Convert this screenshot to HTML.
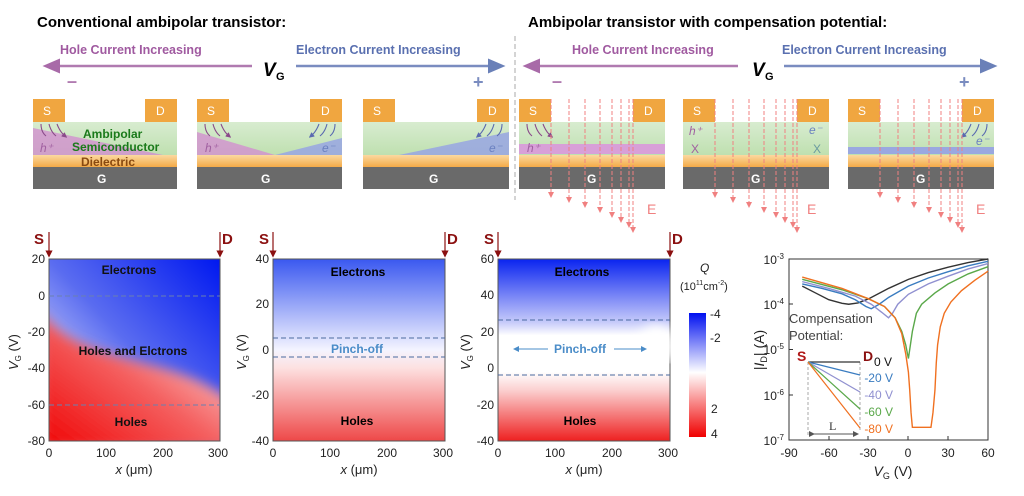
<!DOCTYPE html>
<html><head><meta charset="utf-8"><style>
body{margin:0;background:#fff;}
svg{display:block;font-family:"Liberation Sans",sans-serif;}
</style></head><body>
<svg width="1024" height="496" viewBox="0 0 1024 496" xmlns="http://www.w3.org/2000/svg">
<defs>
<marker id="ap" markerWidth="8" markerHeight="8" refX="4" refY="4" orient="auto"><path d="M0,1 L7,4 L0,7 z" fill="#a86aa8"/></marker>
<marker id="ab" markerWidth="8" markerHeight="8" refX="4" refY="4" orient="auto"><path d="M0,1 L7,4 L0,7 z" fill="#6a80b8"/></marker>
<marker id="ar" markerWidth="6" markerHeight="6" refX="3" refY="3" orient="auto"><path d="M0,0 L6,3 L0,6 z" fill="#f08080"/></marker>
<marker id="ad" markerWidth="6" markerHeight="6" refX="3" refY="3" orient="auto"><path d="M0,0 L6,3 L0,6 z" fill="#8b1010"/></marker>
<marker id="ak" markerWidth="6" markerHeight="6" refX="3" refY="3" orient="auto"><path d="M0,0 L6,3 L0,6 z" fill="#555"/></marker>
<marker id="abl" markerWidth="6" markerHeight="6" refX="3" refY="3" orient="auto"><path d="M0,0 L6,3 L0,6 z" fill="#4a8cc8"/></marker>
<marker id="sp" markerWidth="5" markerHeight="5" refX="2.5" refY="2.5" orient="auto"><path d="M0,0 L5,2.5 L0,5 z" fill="#8a4a8a"/></marker>
<marker id="sb" markerWidth="5" markerHeight="5" refX="2.5" refY="2.5" orient="auto"><path d="M0,0 L5,2.5 L0,5 z" fill="#5a6ab0"/></marker>
<linearGradient id="gr" x1="0" y1="0" x2="0" y2="1"><stop offset="0" stop-color="#d8ecd0"/><stop offset="1" stop-color="#bfe0b0"/></linearGradient>
<linearGradient id="or" x1="0" y1="0" x2="0" y2="1"><stop offset="0" stop-color="#fbd9a0"/><stop offset="1" stop-color="#f4aa48"/></linearGradient>
<linearGradient id="p1b" x1="0" y1="1" x2="1" y2="0"><stop offset="0" stop-color="#fff"/><stop offset="0.5" stop-color="#5a6cf0"/><stop offset="1" stop-color="#0018f0"/></linearGradient>
<linearGradient id="p1r" x1="1" y1="0" x2="0" y2="1"><stop offset="0" stop-color="#fff"/><stop offset="0.5" stop-color="#f46060"/><stop offset="1" stop-color="#f00000"/></linearGradient>
<linearGradient id="p2" x1="0" y1="0" x2="0" y2="1"><stop offset="0" stop-color="#3a58f0"/><stop offset="0.5" stop-color="#f4f4ff"/><stop offset="0.6" stop-color="#fde0e0"/><stop offset="1" stop-color="#ee4848"/></linearGradient>
<linearGradient id="p3" x1="0" y1="0" x2="0" y2="1"><stop offset="0" stop-color="#0a24f0"/><stop offset="0.35" stop-color="#c8ccfa"/><stop offset="0.42" stop-color="#fff"/><stop offset="0.62" stop-color="#fff"/><stop offset="0.72" stop-color="#fbd0d0"/><stop offset="1" stop-color="#ee2020"/></linearGradient>
<linearGradient id="cb" x1="0" y1="0" x2="0" y2="1"><stop offset="0" stop-color="#0010f0"/><stop offset="0.48" stop-color="#fff"/><stop offset="1" stop-color="#f00000"/></linearGradient>
<filter id="bl"><feGaussianBlur stdDeviation="6"/></filter>
<clipPath id="c1"><rect x="49" y="259" width="171" height="182"/></clipPath>
</defs>

<text x="37" y="27" font-size="15" font-weight="bold">Conventional ambipolar transistor:</text>
<text x="528" y="27" font-size="15" font-weight="bold">Ambipolar transistor with compensation potential:</text>
<line x1="515" y1="36" x2="515" y2="200" stroke="#aaa" stroke-dasharray="5,3"/>

<g font-size="12.5" font-weight="bold">
<text x="60" y="54" fill="#a05aa0">Hole Current Increasing</text>
<text x="296" y="54" fill="#5a70b0">Electron Current Increasing</text>
<text x="572" y="54" fill="#a05aa0">Hole Current Increasing</text>
<text x="782" y="54" fill="#5a70b0">Electron Current Increasing</text>
</g>
<line x1="252" y1="66" x2="50" y2="66" stroke="#b07ab0" stroke-width="2.5" marker-end="url(#ap)"/>
<line x1="296" y1="66" x2="498" y2="66" stroke="#7a8cc0" stroke-width="2.5" marker-end="url(#ab)"/>
<line x1="738" y1="66" x2="530" y2="66" stroke="#b07ab0" stroke-width="2.5" marker-end="url(#ap)"/>
<line x1="784" y1="66" x2="990" y2="66" stroke="#7a8cc0" stroke-width="2.5" marker-end="url(#ab)"/>
<text x="263" y="76" font-size="19" font-weight="bold" font-style="italic">V</text><text x="276" y="80" font-size="11" font-weight="bold">G</text>
<text x="752" y="76" font-size="19" font-weight="bold" font-style="italic">V</text><text x="765" y="80" font-size="11" font-weight="bold">G</text>
<text x="67" y="87" font-size="18" fill="#b07ab0" font-weight="bold">–</text>
<text x="473" y="88" font-size="18" fill="#7a8cc0" font-weight="bold">+</text>
<text x="552" y="87" font-size="18" fill="#b07ab0" font-weight="bold">–</text>
<text x="959" y="88" font-size="18" fill="#7a8cc0" font-weight="bold">+</text>

<g font-size="12" fill="#fff">
<g transform="translate(33,0)">
<rect x="0" y="122" width="144" height="33" fill="url(#gr)"/>
<path d="M0,128 L0,155 L130,155 Z" fill="#d290d0" opacity="0.8"/>
<rect x="0" y="155" width="144" height="12" fill="url(#or)"/>
<rect x="0" y="167" width="144" height="22" fill="#6a6a6a"/>
<rect x="0" y="99" width="32" height="23" fill="#f0a640"/><rect x="112" y="99" width="32" height="23" fill="#f0a640"/>
<text x="10" y="115">S</text><text x="123" y="115">D</text><text x="64" y="183" font-weight="bold">G</text>
<path d="M8,124 q0,8 5,12 M16,124 q2,8 7,12 M24,124 q3,8 8,12" stroke="#8a4a8a" fill="none" stroke-width="1.1" marker-end="url(#sp)"/>
</g>
<text x="83" y="138" font-size="12" font-weight="bold" fill="#1a7a1a">Ambipolar</text>
<text x="72" y="151" font-size="12" font-weight="bold" fill="#1a7a1a">Semiconductor</text>
<text x="81" y="166" font-size="12" font-weight="bold" fill="#8a4a10">Dielectric</text>
<text x="40" y="152" font-size="12" font-style="italic" fill="#a060a0">h⁺</text>
<g transform="translate(197,0)">
<rect x="0" y="122" width="145" height="33" fill="url(#gr)"/>
<path d="M0,132 L0,155 L78,155 Z" fill="#d290d0" opacity="0.8"/>
<path d="M145,138 L145,155 L78,155 Z" fill="#9aa8e0" opacity="0.9"/>
<rect x="0" y="155" width="145" height="12" fill="url(#or)"/>
<rect x="0" y="167" width="145" height="22" fill="#6a6a6a"/>
<rect x="0" y="99" width="32" height="23" fill="#f0a640"/><rect x="113" y="99" width="32" height="23" fill="#f0a640"/>
<text x="10" y="115">S</text><text x="124" y="115">D</text><text x="64" y="183" font-weight="bold">G</text>
<text x="8" y="152" font-style="italic" fill="#a060a0">h⁺</text><text x="125" y="152" font-style="italic" fill="#6a80c0">e⁻</text>
<path d="M8,124 q0,8 5,12 M16,124 q2,8 7,12 M24,124 q3,8 8,12" stroke="#8a4a8a" fill="none" stroke-width="1.1" marker-end="url(#sp)"/>
<path d="M138,124 q0,8 -5,12 M130,124 q-2,8 -7,12 M122,124 q-3,8 -8,12" stroke="#5a6ab0" fill="none" stroke-width="1.1" marker-end="url(#sb)"/>
</g>
<g transform="translate(363,0)">
<rect x="0" y="122" width="146" height="33" fill="url(#gr)"/>
<path d="M146,132 L146,155 L36,155 Z" fill="#9aa8e0" opacity="0.9"/>
<rect x="0" y="155" width="146" height="12" fill="url(#or)"/>
<rect x="0" y="167" width="146" height="22" fill="#6a6a6a"/>
<rect x="0" y="99" width="32" height="23" fill="#f0a640"/><rect x="114" y="99" width="32" height="23" fill="#f0a640"/>
<text x="10" y="115">S</text><text x="125" y="115">D</text><text x="66" y="183" font-weight="bold">G</text>
<text x="126" y="152" font-style="italic" fill="#6a80c0">e⁻</text>
<path d="M139,124 q0,8 -5,12 M131,124 q-2,8 -7,12 M123,124 q-3,8 -8,12" stroke="#5a6ab0" fill="none" stroke-width="1.1" marker-end="url(#sb)"/>
</g>
<g transform="translate(519,0)">
<rect x="0" y="122" width="146" height="33" fill="url(#gr)"/>
<rect x="0" y="144" width="146" height="10" fill="#d8a0d8"/>
<rect x="0" y="155" width="146" height="12" fill="url(#or)"/>
<rect x="0" y="167" width="146" height="22" fill="#6a6a6a"/>
<rect x="0" y="99" width="32" height="23" fill="#f0a640"/><rect x="114" y="99" width="32" height="23" fill="#f0a640"/>
<text x="10" y="115">S</text><text x="125" y="115">D</text><text x="68" y="183" font-weight="bold">G</text>
<text x="8" y="152" font-style="italic" fill="#a060a0">h⁺</text>
<path d="M8,124 q0,8 5,12 M16,124 q2,8 7,12 M24,124 q3,8 8,12" stroke="#8a4a8a" fill="none" stroke-width="1.1" marker-end="url(#sp)"/>
<g stroke="#f08080" stroke-dasharray="4,2" marker-end="url(#ar)"><line x1="32" y1="99" x2="32" y2="195"/><line x1="50" y1="99" x2="50" y2="200"/><line x1="66" y1="99" x2="66" y2="205"/><line x1="81" y1="99" x2="81" y2="210"/><line x1="93" y1="99" x2="93" y2="215"/><line x1="102" y1="99" x2="102" y2="220"/><line x1="110" y1="99" x2="110" y2="225"/><line x1="114" y1="99" x2="114" y2="230"/></g>
<text x="128" y="214" font-size="14" fill="#f08080">E</text>
</g>
<g transform="translate(683,0)">
<rect x="0" y="122" width="146" height="33" fill="url(#gr)"/>
<rect x="0" y="155" width="146" height="12" fill="url(#or)"/>
<rect x="0" y="167" width="146" height="22" fill="#6a6a6a"/>
<rect x="0" y="99" width="32" height="23" fill="#f0a640"/><rect x="114" y="99" width="32" height="23" fill="#f0a640"/>
<text x="10" y="115">S</text><text x="125" y="115">D</text><text x="68" y="183" font-weight="bold">G</text>
<text x="6" y="135" font-style="italic" fill="#a060a0">h⁺</text><text x="126" y="134" font-style="italic" fill="#6a80c0">e⁻</text>
<text x="8" y="153" fill="#a060a0">X</text><text x="130" y="153" fill="#6a9aa0">X</text>
<g stroke="#f08080" stroke-dasharray="4,2" marker-end="url(#ar)"><line x1="32" y1="99" x2="32" y2="195"/><line x1="50" y1="99" x2="50" y2="200"/><line x1="66" y1="99" x2="66" y2="205"/><line x1="81" y1="99" x2="81" y2="210"/><line x1="93" y1="99" x2="93" y2="215"/><line x1="102" y1="99" x2="102" y2="220"/><line x1="110" y1="99" x2="110" y2="225"/><line x1="114" y1="99" x2="114" y2="230"/></g>
<text x="124" y="214" font-size="14" fill="#f08080">E</text>
</g>
<g transform="translate(848,0)">
<rect x="0" y="122" width="146" height="33" fill="url(#gr)"/>
<rect x="0" y="147" width="146" height="7" fill="#9aa8e0"/>
<rect x="0" y="155" width="146" height="12" fill="url(#or)"/>
<rect x="0" y="167" width="146" height="22" fill="#6a6a6a"/>
<rect x="0" y="99" width="32" height="23" fill="#f0a640"/><rect x="114" y="99" width="32" height="23" fill="#f0a640"/>
<text x="10" y="115">S</text><text x="125" y="115">D</text><text x="68" y="183" font-weight="bold">G</text>
<text x="128" y="145" font-style="italic" fill="#6a80c0">e⁻</text>
<path d="M139,124 q0,8 -5,12 M131,124 q-2,8 -7,12 M123,124 q-3,8 -8,12" stroke="#5a6ab0" fill="none" stroke-width="1.1" marker-end="url(#sb)"/>
<g stroke="#f08080" stroke-dasharray="4,2" marker-end="url(#ar)"><line x1="32" y1="99" x2="32" y2="195"/><line x1="50" y1="99" x2="50" y2="200"/><line x1="66" y1="99" x2="66" y2="205"/><line x1="81" y1="99" x2="81" y2="210"/><line x1="93" y1="99" x2="93" y2="215"/><line x1="102" y1="99" x2="102" y2="220"/><line x1="110" y1="99" x2="110" y2="225"/><line x1="114" y1="99" x2="114" y2="230"/></g>
<text x="128" y="214" font-size="14" fill="#f08080">E</text>
</g>
</g>

<g clip-path="url(#c1)">
<rect x="49" y="259" width="171" height="182" fill="url(#p1b)"/>
<path d="M40,310 C60,340 90,350 150,365 C190,375 210,385 230,400 L230,450 L40,450 Z" fill="url(#p1r)" filter="url(#bl)"/>
</g>
<rect x="49" y="259" width="171" height="182" fill="none" stroke="#555"/>
<line x1="49" y1="296" x2="220" y2="296" stroke="#6a80b0" stroke-dasharray="5,3"/>
<line x1="49" y1="405" x2="220" y2="405" stroke="#6a80b0" stroke-dasharray="5,3"/>
<g font-size="12" font-weight="bold" text-anchor="middle" fill="#111">
<text x="129" y="274">Electrons</text>
<text x="133" y="355">Holes and Elctrons</text>
<text x="131" y="426">Holes</text>
</g>
<rect x="273" y="259" width="172" height="182" fill="url(#p2)" stroke="#555"/>
<line x1="273" y1="338" x2="445" y2="338" stroke="#4a6aa0" stroke-dasharray="5,3"/>
<line x1="273" y1="357" x2="445" y2="357" stroke="#4a6aa0" stroke-dasharray="5,3"/>
<g font-size="12" font-weight="bold" text-anchor="middle">
<text x="358" y="276">Electrons</text>
<text x="357" y="353" fill="#4a8cc8">Pinch-off</text>
<text x="357" y="425">Holes</text>
</g>
<rect x="498" y="259" width="172" height="182" fill="url(#p3)" stroke="#555"/>
<path d="M650,325 Q675,325 675,345 L675,360 L620,360 Z" fill="#fff" filter="url(#bl)"/>
<line x1="498" y1="320" x2="670" y2="320" stroke="#4a6aa0" stroke-dasharray="5,3"/>
<line x1="498" y1="375" x2="670" y2="375" stroke="#4a6aa0" stroke-dasharray="5,3"/>
<g font-size="12" font-weight="bold" text-anchor="middle">
<text x="582" y="276">Electrons</text>
<text x="580" y="353" fill="#4a8cc8">Pinch-off</text>
<text x="580" y="425">Holes</text>
</g>
<line x1="548" y1="349" x2="516" y2="349" stroke="#4a8cc8" marker-end="url(#abl)"/>
<line x1="614" y1="349" x2="644" y2="349" stroke="#4a8cc8" marker-end="url(#abl)"/>

<g font-size="15" font-weight="bold" fill="#8b1010">
<text x="34" y="244">S</text><text x="222" y="244">D</text>
<text x="259" y="244">S</text><text x="447" y="244">D</text>
<text x="484" y="244">S</text><text x="672" y="244">D</text>
</g>
<g stroke="#8b1010" stroke-width="1.2" marker-end="url(#ad)">
<line x1="49" y1="232" x2="49" y2="254"/><line x1="220" y1="232" x2="220" y2="254"/>
<line x1="273" y1="232" x2="273" y2="254"/><line x1="445" y1="232" x2="445" y2="254"/>
<line x1="498" y1="232" x2="498" y2="254"/><line x1="670" y1="232" x2="670" y2="254"/>
</g>

<g font-size="12" fill="#222" text-anchor="end">
<text x="45" y="263">20</text><text x="45" y="300">0</text><text x="45" y="336">-20</text><text x="45" y="372">-40</text><text x="45" y="409">-60</text><text x="45" y="445">-80</text>
<text x="269" y="263">40</text><text x="269" y="308">20</text><text x="269" y="354">0</text><text x="269" y="399">-20</text><text x="269" y="445">-40</text>
<text x="494" y="263">60</text><text x="494" y="299">40</text><text x="494" y="336">20</text><text x="494" y="372">0</text><text x="494" y="409">-20</text><text x="494" y="445">-40</text>
</g>
<g font-size="12" fill="#222" text-anchor="middle">
<text x="49" y="457">0</text><text x="106" y="457">100</text><text x="163" y="457">200</text><text x="218" y="457">300</text>
<text x="273" y="457">0</text><text x="330" y="457">100</text><text x="387" y="457">200</text><text x="443" y="457">300</text>
<text x="498" y="457">0</text><text x="555" y="457">100</text><text x="612" y="457">200</text><text x="668" y="457">300</text>
<text x="134" y="474" font-size="13"><tspan font-style="italic">x</tspan> (μm)</text>
<text x="359" y="474" font-size="13"><tspan font-style="italic">x</tspan> (μm)</text>
<text x="584" y="474" font-size="13"><tspan font-style="italic">x</tspan> (μm)</text>
</g>
<g font-size="13" fill="#222">
<text transform="translate(18,370) rotate(-90)"><tspan font-style="italic">V</tspan><tspan font-size="8" dy="3">G</tspan><tspan dy="-3"> (V)</tspan></text>
<text transform="translate(246,370) rotate(-90)"><tspan font-style="italic">V</tspan><tspan font-size="8" dy="3">G</tspan><tspan dy="-3"> (V)</tspan></text>
<text transform="translate(470,370) rotate(-90)"><tspan font-style="italic">V</tspan><tspan font-size="8" dy="3">G</tspan><tspan dy="-3"> (V)</tspan></text>
</g>
<rect x="689" y="313" width="17" height="124" fill="url(#cb)"/>
<g font-size="12" fill="#222"><text x="710" y="318">-4</text><text x="710" y="342">-2</text><text x="711" y="413">2</text><text x="711" y="438">4</text>
<text x="700" y="272" font-style="italic">Q</text><text x="680" y="290" font-size="11">(10<tspan font-size="7" dy="-5">11</tspan><tspan dy="5">cm</tspan><tspan font-size="7" dy="-5">-2</tspan><tspan dy="5">)</tspan></text></g>

<rect x="789" y="259" width="199" height="181" fill="none" stroke="#333"/>
<g stroke="#333"><line x1="789" y1="304" x2="793" y2="304"/><line x1="789" y1="349.5" x2="793" y2="349.5"/><line x1="789" y1="395" x2="793" y2="395"/>
<line x1="829" y1="440" x2="829" y2="436"/><line x1="868" y1="440" x2="868" y2="436"/><line x1="908" y1="440" x2="908" y2="436"/><line x1="948" y1="440" x2="948" y2="436"/></g>
<g font-size="12" fill="#222" text-anchor="end">
<text x="784" y="264">10<tspan font-size="8" dy="-5">-3</tspan></text>
<text x="784" y="309">10<tspan font-size="8" dy="-5">-4</tspan></text>
<text x="784" y="354">10<tspan font-size="8" dy="-5">-5</tspan></text>
<text x="784" y="400">10<tspan font-size="8" dy="-5">-6</tspan></text>
<text x="784" y="445">10<tspan font-size="8" dy="-5">-7</tspan></text>
</g>
<g font-size="12" fill="#222" text-anchor="middle">
<text x="789" y="457">-90</text><text x="829" y="457">-60</text><text x="868" y="457">-30</text><text x="908" y="457">0</text><text x="948" y="457">30</text><text x="988" y="457">60</text>
<text x="893" y="476" font-size="14"><tspan font-style="italic">V</tspan><tspan font-size="9" dy="3">G</tspan><tspan dy="-3"> (V)</tspan></text>
</g>
<text transform="translate(764,350) rotate(-90)" font-size="14" text-anchor="middle" fill="#222">|<tspan font-style="italic">I</tspan><tspan font-size="9" dy="3">D</tspan><tspan dy="-3">| (A)</tspan></text>
<g transform="matrix(1.327 0 0 -45.25 908.4 123.25)" fill="none" stroke-width="1.4">
<polyline vector-effect="non-scaling-stroke" stroke="#333" points="-80,-3.6 -70,-3.75 -60,-3.9 -50,-3.98 -45,-4 -38,-3.97 -30,-3.88 -15,-3.65 0,-3.45 15,-3.3 30,-3.18 45,-3.08 60,-3"/>
<polyline vector-effect="non-scaling-stroke" stroke="#3a7cc0" points="-80,-3.55 -65,-3.65 -50,-3.77 -40,-3.9 -32,-4.05 -28,-4.1 -22,-4.0 -15,-3.85 0,-3.6 15,-3.42 30,-3.28 45,-3.15 60,-3.05"/>
<polyline vector-effect="non-scaling-stroke" stroke="#9090d0" points="-80,-3.5 -60,-3.65 -40,-3.82 -28,-4.0 -20,-4.18 -15,-4.3 -12,-4.2 -8,-4.0 0,-3.78 15,-3.55 30,-3.38 45,-3.22 60,-3.1"/>
<polyline vector-effect="non-scaling-stroke" stroke="#5aa84a" points="-80,-3.45 -50,-3.68 -30,-3.88 -18,-4.05 -10,-4.3 -5,-4.6 -2,-4.9 0,-5.2 1,-5.0 3,-4.6 6,-4.2 10,-4.0 20,-3.75 30,-3.55 45,-3.33 60,-3.17"/>
<polyline vector-effect="non-scaling-stroke" stroke="#f07020" points="-80,-3.4 -50,-3.65 -30,-3.88 -18,-4.05 -10,-4.3 -5,-4.65 -2,-5.1 0,-5.5 1,-5.9 2,-6.4 3,-6.72 17,-6.72 18.5,-6.4 20,-5.9 21,-5.3 22,-4.9 24,-4.5 27,-4.2 32,-3.95 40,-3.7 50,-3.47 60,-3.27"/>
</g>
<text x="789" y="323" font-size="13" fill="#444">Compensation</text>
<text x="789" y="340" font-size="13" fill="#444">Potential:</text>
<text x="797" y="361" font-size="14" font-weight="bold" fill="#b01818">S</text>
<text x="863" y="361" font-size="14" font-weight="bold" fill="#8b1010">D</text>
<g stroke="#aaa" stroke-dasharray="3,2"><line x1="808" y1="362" x2="808" y2="437"/><line x1="860" y1="362" x2="860" y2="431"/></g>
<g stroke-width="1.2"><line x1="808" y1="362" x2="860" y2="362" stroke="#333"/><line x1="808" y1="362" x2="860" y2="375" stroke="#3a7cc0"/><line x1="808" y1="362" x2="860" y2="392" stroke="#9090d0"/><line x1="808" y1="362" x2="860" y2="409" stroke="#5aa84a"/><line x1="808" y1="362" x2="860" y2="428" stroke="#f07020"/></g>
<line x1="812" y1="434" x2="856" y2="434" stroke="#555" marker-start="url(#ak)" marker-end="url(#ak)"/>
<text x="829" y="430" font-size="12" font-family="Liberation Serif" fill="#333">L</text>
<g font-size="12" text-anchor="end">
<text x="892" y="366" fill="#111">0 V</text><text x="893" y="382" fill="#3a7cc0">-20 V</text><text x="893" y="399" fill="#9090d0">-40 V</text><text x="893" y="416" fill="#5aa84a">-60 V</text><text x="893" y="433" fill="#f07020">-80 V</text>
</g>
</svg>
</body></html>
